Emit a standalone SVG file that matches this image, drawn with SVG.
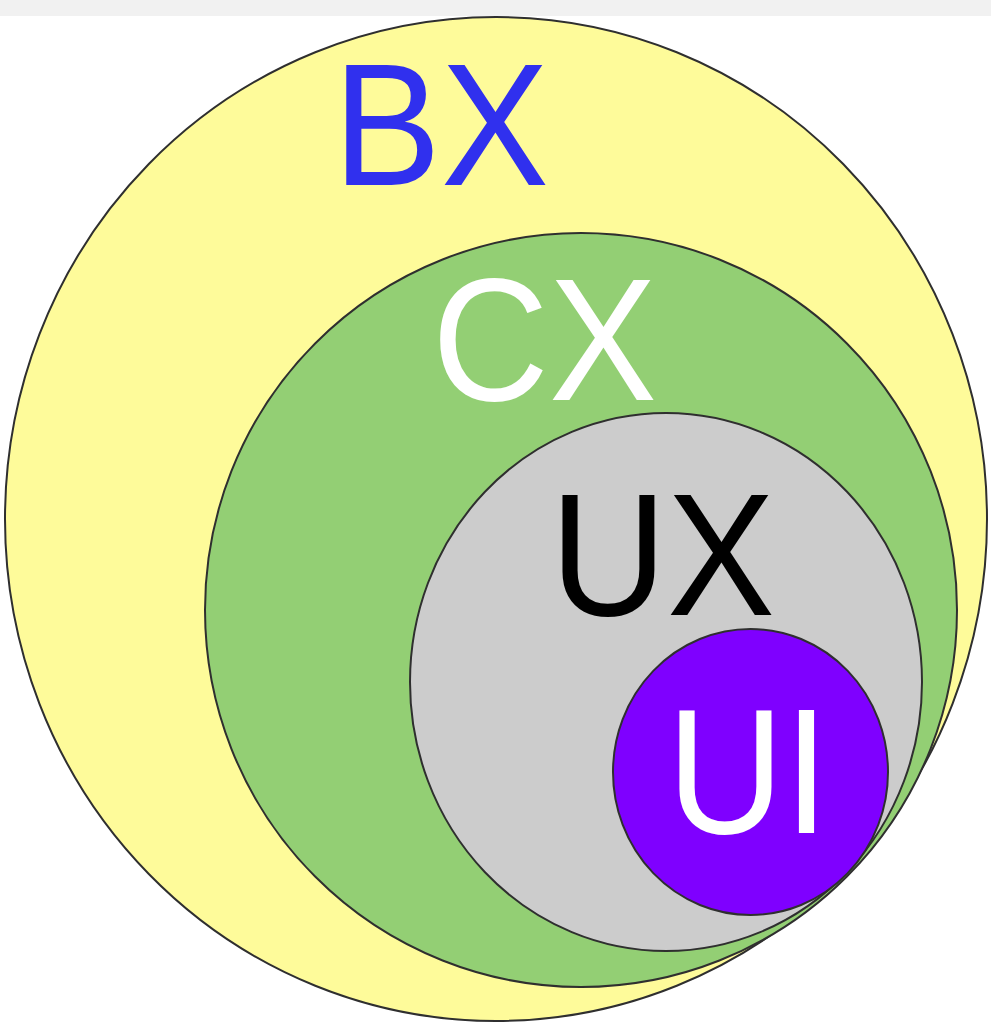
<svg xmlns="http://www.w3.org/2000/svg" width="991" height="1023" viewBox="0 0 991 1023">
  <style>
    .ring { stroke: #2f2f2f; stroke-width: 2; }
    .lbl { font-family: "Liberation Sans", Arial, sans-serif; font-size: 175px; }
  </style>
  <rect x="0" y="0" width="991" height="1023" fill="#ffffff"/>
  <rect x="0" y="0" width="991" height="16" fill="#f1f1f1"/>
  <g id="node-bx">
    <ellipse class="ring" cx="496" cy="519" rx="491" ry="502" fill="#fefb9a"/>
    <text class="lbl" transform="translate(333,185) scale(0.925,1)" fill="#3030ee">BX</text>
  </g>
  <g id="node-cx">
    <ellipse class="ring" cx="581" cy="610" rx="376" ry="377" fill="#93cf74"/>
    <text class="lbl" transform="translate(432,400) scale(0.925,1)" fill="#ffffff">CX</text>
  </g>
  <g id="node-ux">
    <ellipse class="ring" cx="666" cy="682" rx="256" ry="269" fill="#cccccc"/>
    <text class="lbl" transform="translate(550,615) scale(0.925,1)" fill="#000000">UX</text>
  </g>
  <g id="node-ui">
    <ellipse class="ring" cx="750.5" cy="772" rx="137.5" ry="143" fill="#7f00ff"/>
    <text class="lbl" transform="translate(667,833) scale(0.925,1.02)" fill="#ffffff">UI</text>
  </g>
  <g id="connectors"></g>
</svg>
